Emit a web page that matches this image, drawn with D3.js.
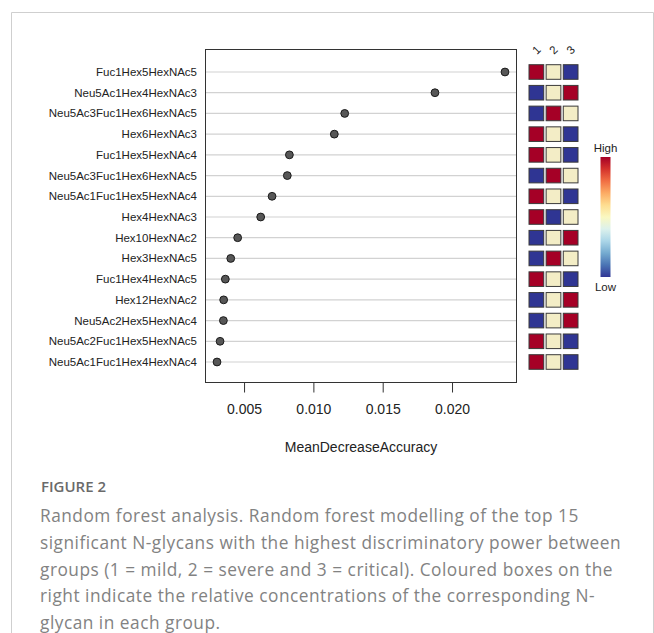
<!DOCTYPE html>
<html>
<head>
<meta charset="utf-8">
<script src="https://cdn.jsdelivr.net/npm/d3@7"></script>
<style>
  body { margin: 0; background: #fff; }
  svg text { font-family: "Liberation Sans", Arial, sans-serif; }
</style>
</head>
<body>
<svg id="chart" width="654" height="633"></svg>
<script>
// glycans, top to bottom
var glycans = ["Fuc1Hex5HexNAc5", "Neu5Ac1Hex4HexNAc3", "Neu5Ac3Fuc1Hex6HexNAc5", "Hex6HexNAc3",
  "Fuc1Hex5HexNAc4", "Neu5Ac3Fuc1Hex6HexNAc5 ", "Neu5Ac1Fuc1Hex5HexNAc4", "Hex4HexNAc3",
  "Hex10HexNAc2", "Hex3HexNAc5", "Fuc1Hex4HexNAc5", "Hex12HexNAc2",
  "Neu5Ac2Hex5HexNAc4", "Neu5Ac2Fuc1Hex5HexNAc5", "Neu5Ac1Fuc1Hex4HexNAc4"];
var accuracy = [0.02382, 0.01877, 0.01226, 0.01151, 0.00827, 0.00812, 0.00702, 0.00620,
  0.00454, 0.00404, 0.00365, 0.00353, 0.00351, 0.00327, 0.00305];
var groups = ["1", "2", "3"];
// relative level per group: 0 = low, 0.5 = mid, 1 = high
var level1 = [1, 0, 0, 1, 1, 0, 1, 1, 0, 0, 1, 0, 0, 1, 1];
var level2 = [0.5, 0.5, 1, 0.5, 0.5, 1, 0.5, 0, 0.5, 1, 0.5, 0.5, 0.5, 0.5, 0.5];
var level3 = [0, 1, 0.5, 0, 0, 0.5, 0, 0.5, 1, 0.5, 0, 1, 1, 0, 0];
var xTicks = [0.005, 0.010, 0.015, 0.020];
var caption = ["Random forest analysis. Random forest modelling of the top 15",
  "significant N-glycans with the highest discriminatory power between",
  "groups (1 = mild, 2 = severe and 3 = critical). Coloured boxes on the",
  "right indicate the relative concentrations of the corresponding N-",
  "glycan in each group."];

var svg = d3.select("#chart");

// card outline
svg.append("path").attr("d", "M11.5,640V12.5H653.5V640")
  .attr("fill", "none").attr("stroke", "#cfcfcf");

var frame = {left: 205.5, right: 516.5, top: 49.5, bottom: 382.5};
var ext = d3.extent(accuracy), pad = (ext[1] - ext[0]) * 0.04;
var x = d3.scaleLinear().domain([ext[0] - pad, ext[1] + pad]).range([frame.left, frame.right]);
var y = d3.scalePoint().domain(glycans).range([72, 362]);

// grid lines
svg.append("g").selectAll("line").data(glycans).enter().append("line")
  .attr("x1", frame.left).attr("x2", frame.right)
  .attr("y1", function(d) { return y(d); }).attr("y2", function(d) { return y(d); })
  .attr("stroke", "#d2d2d2").attr("stroke-width", 1.2);

// labels
svg.append("g").selectAll("text").data(glycans).enter().append("text")
  .attr("x", 197).attr("y", function(d) { return y(d); })
  .attr("dy", "0.35em").attr("text-anchor", "end")
  .attr("font-size", "11.5px").attr("fill", "#222")
  .text(function(d) { return d.trim(); });

// points
svg.append("g").selectAll("circle").data(accuracy).enter().append("circle")
  .attr("cx", function(d) { return x(d); })
  .attr("cy", function(d, i) { return y(glycans[i]); })
  .attr("r", 3.9).attr("fill", "#575757").attr("stroke", "#1a1a1a").attr("stroke-width", 1);

svg.append("rect").attr("x", frame.left).attr("y", frame.top)
  .attr("width", frame.right - frame.left).attr("height", frame.bottom - frame.top)
  .attr("fill", "none").attr("stroke", "#333");

// x axis
var xAxis = svg.append("g").attr("transform", "translate(0," + frame.bottom + ")")
  .call(d3.axisBottom(x).tickValues(xTicks).tickFormat(d3.format(".3f")).tickSize(10).tickPadding(12));
xAxis.select(".domain").remove();
xAxis.selectAll("line").attr("stroke", "#333");
xAxis.selectAll("text").attr("font-size", "14px").attr("fill", "#222")
  .style("font-family", "Liberation Sans, Arial, sans-serif");

svg.append("text").attr("x", (frame.left + frame.right) / 2).attr("y", 451.5)
  .attr("text-anchor", "middle").attr("font-size", "14px").attr("fill", "#222")
  .text("MeanDecreaseAccuracy");

// heat boxes
var color = d3.scaleLinear().domain([0, 0.5, 1]).range(["#2f3593", "#f3edc6", "#a50026"]);
var gx = d3.scaleBand().domain(groups).range([529, 578]).paddingInner(0.14);
var levels = [level1, level2, level3];
var heat = svg.append("g");
groups.forEach(function(g, j) {
  heat.selectAll(".c" + g).data(levels[j]).enter().append("rect")
    .attr("class", "c" + g)
    .attr("x", gx(g)).attr("y", function(d, i) { return y(glycans[i]) - 7.3; })
    .attr("width", gx.bandwidth()).attr("height", 14.6)
    .attr("fill", function(d) { return color(d); })
    .attr("stroke", "#3a3a3a").attr("stroke-width", 1);
});
svg.append("g").selectAll("text").data(groups).enter().append("text")
  .attr("transform", function(d) { return "translate(" + (gx(d) + gx.bandwidth() / 2) + ",50) rotate(-45)"; })
  .attr("text-anchor", "middle").attr("dy", "0.35em")
  .attr("font-size", "11.5px").attr("fill", "#222").text(function(d) { return d; });

// colour key
var defs = svg.append("defs");
var grad = defs.append("linearGradient").attr("id", "key").attr("x1", 0).attr("y1", 1).attr("x2", 0).attr("y2", 0);
d3.range(0, 1.001, 0.1).forEach(function(t) {
  grad.append("stop").attr("offset", t).attr("stop-color", d3.interpolateRdYlBu(1 - t));
});
svg.append("rect").attr("x", 600.5).attr("y", 157).attr("width", 10).attr("height", 120)
  .attr("fill", "url(#key)");
svg.append("text").attr("x", 605.5).attr("y", 151.5).attr("text-anchor", "middle")
  .attr("font-size", "11.5px").attr("fill", "#222").text("High");
svg.append("text").attr("x", 605.5).attr("y", 290.5).attr("text-anchor", "middle")
  .attr("font-size", "11.5px").attr("fill", "#222").text("Low");

// caption
svg.append("text").attr("x", 41).attr("y", 491.5).attr("font-size", "15px")
  .attr("font-weight", 600).attr("fill", "#6a6a6a")
  .style("font-family", "'Open Sans', sans-serif").text("FIGURE 2");
svg.append("g").selectAll("text").data(caption).enter().append("text")
  .attr("x", 40).attr("y", function(d, i) { return 522 + i * 26.8; })
  .attr("font-size", "17.3px").attr("fill", "#828282").attr("letter-spacing", "0.5px")
  .style("font-family", "'Open Sans', sans-serif").text(function(d) { return d; });
</script>
</body>
</html>
